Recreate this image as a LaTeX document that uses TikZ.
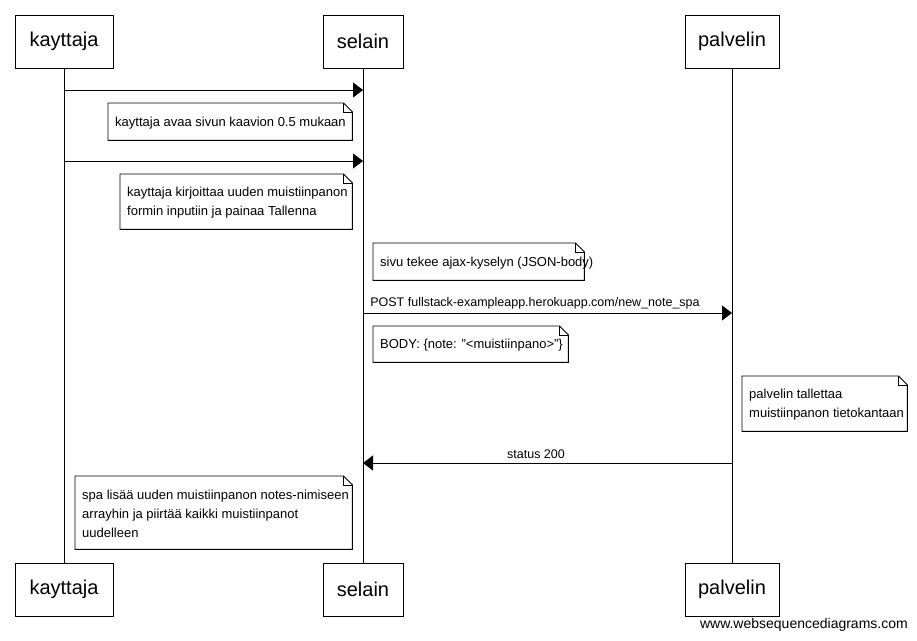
\documentclass[tikz,border=0pt]{standalone}
\usepackage{fontspec}
\setmainfont{Liberation Sans}
\usetikzlibrary{arrows.meta,calc}

\tikzset{
  actor/.style={draw, line width=0.9pt, minimum width=98pt, minimum height=53pt,
    inner sep=0pt, font=\fontsize{20}{24}\selectfont},
  life/.style={line width=0.9pt},
  msg/.style={line width=0.9pt, -{Triangle[length=10pt,width=15pt]}},
  msglabel/.style={font=\fontsize{12.5}{15}\selectfont, inner sep=0pt},
  noteframe/.style={anchor=north west, inner sep=0pt},
  notetext/.style={anchor=west, inner sep=0pt, align=left,
    font=\fontsize{13}{19}\selectfont},
  notefold/.style={line width=0.9pt, fill=white}
}
% note: name, x, y, width, height, text
\newcommand{\note}[6]{%
  \path (#2,#3) node[noteframe, minimum width=#4pt, minimum height=#5pt] (#1) {};
  \draw[notefold] (#1.north west) -- ($(#1.north east)+(-9,0)$)
    -- ($(#1.north east)+(0,9)$) -- (#1.south east) -- (#1.south west) -- cycle;
  \draw[line width=0.9pt] ($(#1.north east)+(-9,0)$) -- ($(#1.north east)+(-9,9)$)
    -- ($(#1.north east)+(0,9)$);
  \node[notetext] (#1-t) at ($(#1.west)+(7,1)$) {#6};
}
\newcommand{\dq}{\char"22\relax}

\begin{document}
\begin{tikzpicture}[x=1pt, y=-1pt]
  \useasboundingbox (0,0) rectangle (917,640);

  % participants, top and bottom
  \node[actor] (kt) at (64,41.5) {kayttaja};
  \node[actor, minimum width=80pt] (st) at (363,41.5) {selain};
  \node[actor, minimum width=94pt] (pt) at (732,41.5) {palvelin};
  \node[actor] (kb) at (64,589.5) {kayttaja};
  \node[actor, minimum width=80pt] (sb) at (363,589.5) {selain};
  \node[actor, minimum width=94pt] (pb) at (732,589.5) {palvelin};

  % lifelines
  \draw[life] (kt.south) -- (kb.north);
  \draw[life] (st.south) -- (sb.north);
  \draw[life] (pt.south) -- (pb.north);

  % message end points on the lifelines
  \coordinate (m1a) at (64,90);   \coordinate (m1b) at (363,90);
  \coordinate (m2a) at (64,161);  \coordinate (m2b) at (363,161);
  \coordinate (m3a) at (363,313); \coordinate (m3b) at (732,313);
  \coordinate (m4a) at (732,463); \coordinate (m4b) at (363,463);

  % messages
  \draw[msg] (m1a) -- (m1b);
  \draw[msg] (m2a) -- (m2b);
  \draw[msg] (m3a) -- (m3b);
  \node[msglabel] (l3) at (535,303) {POST fullstack-exampleapp.herokuapp.com/new\_note\_spa};
  \draw[msg] (m4a) -- (m4b);
  \node[msglabel] (l4) at (536,454) {status 200};

  % notes
  \note{n1}{108}{103}{244}{37}{kayttaja avaa sivun kaavion 0.5 mukaan}
  \note{n2}{120}{174}{232}{55}{kayttaja kirjoittaa uuden muistiinpanon\\formin inputiin ja painaa Tallenna}
  \note{n3}{373}{243}{211}{37}{sivu tekee ajax-kyselyn (JSON-body)}
  \note{n4}{373}{326}{195}{36}{BODY: \{note: \dq<muistiinpano>\dq\}}
  \note{n5}{742}{376}{165}{55}{palvelin tallettaa\\muistiinpanon tietokantaan}
  \note{n6}{75}{476}{277}{73}{spa lisää uuden muistiinpanon notes-nimiseen\\arrayhin ja piirtää kaikki muistiinpanot\\uudelleen}

  % footer
  \node[anchor=east, inner sep=0pt, font=\fontsize{14}{16}\selectfont] (wm) at (908,625) {www.websequencediagrams.com};
\end{tikzpicture}
\end{document}
